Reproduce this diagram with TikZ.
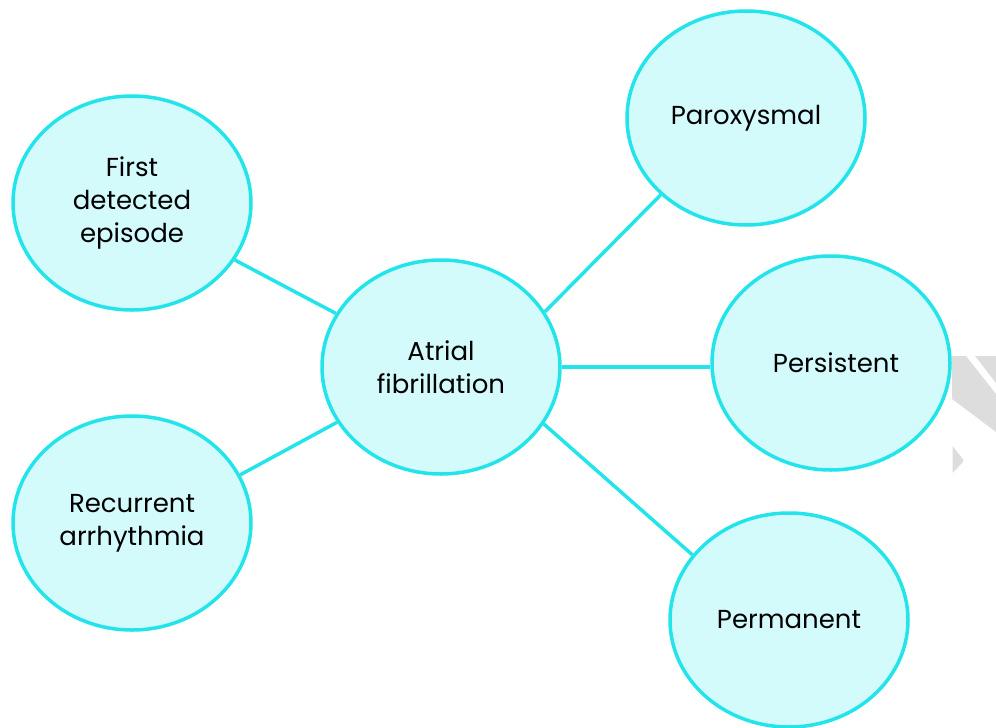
\documentclass[tikz,border=0pt]{standalone}
\usepackage{fontspec}
\setmainfont{Poppins}
\usetikzlibrary{shapes.geometric}
\definecolor{ringcyan}{RGB}{34,228,234}
\definecolor{bubblefill}{RGB}{212,251,252}
\definecolor{wmgray}{RGB}{221,221,221}
\tikzset{
  bubble/.style={ellipse, draw=ringcyan, fill=bubblefill, line width=3.5pt,
    minimum width=238pt, minimum height=214pt, inner sep=0pt, align=center,
    text=black, font=\fontsize{26}{33}\selectfont},
  link/.style={draw=ringcyan, line width=3.5pt},
  watermark/.style={fill=wmgray, draw=none}
}
\begin{document}
\begin{tikzpicture}[x=1pt,y=-1pt]
\useasboundingbox (0,0) rectangle (996,728);
% watermark fragment at the right edge
\fill[watermark] (952,356) -- (966,356) -- (996,394) -- (996,432) -- (952,399) -- cycle;
\fill[watermark] (975,356) -- (996,356) -- (996,383) -- cycle;
\fill[watermark] (952.5,446) -- (962,458) .. controls (964,460.5) .. (962,463) -- (952.5,473) -- cycle;
% bubbles
\node[bubble] (par)  at (746,118) {Paroxysmal};
\node[bubble] (first) at (132,203) {First\\detected\\episode};
\node[bubble] (c)    at (441,367) {Atrial\\fibrillation};
\node[bubble] (pers) at (831,363) {\hspace*{10pt}Persistent};
\node[bubble] (rec)  at (132,523) {Recurrent\\arrhythmia};
\node[bubble] (perm) at (789,620) {Permanent};
% connectors
\draw[link] (first.-29) -- (c.153);
\draw[link] (rec.24) -- (c.208);
\draw[link] (c.28) -- (par.222);
\draw[link] (c.east) -- (c.east -| pers.west);
\draw[link] (c.-29) -- (perm.146);
\end{tikzpicture}
\end{document}
